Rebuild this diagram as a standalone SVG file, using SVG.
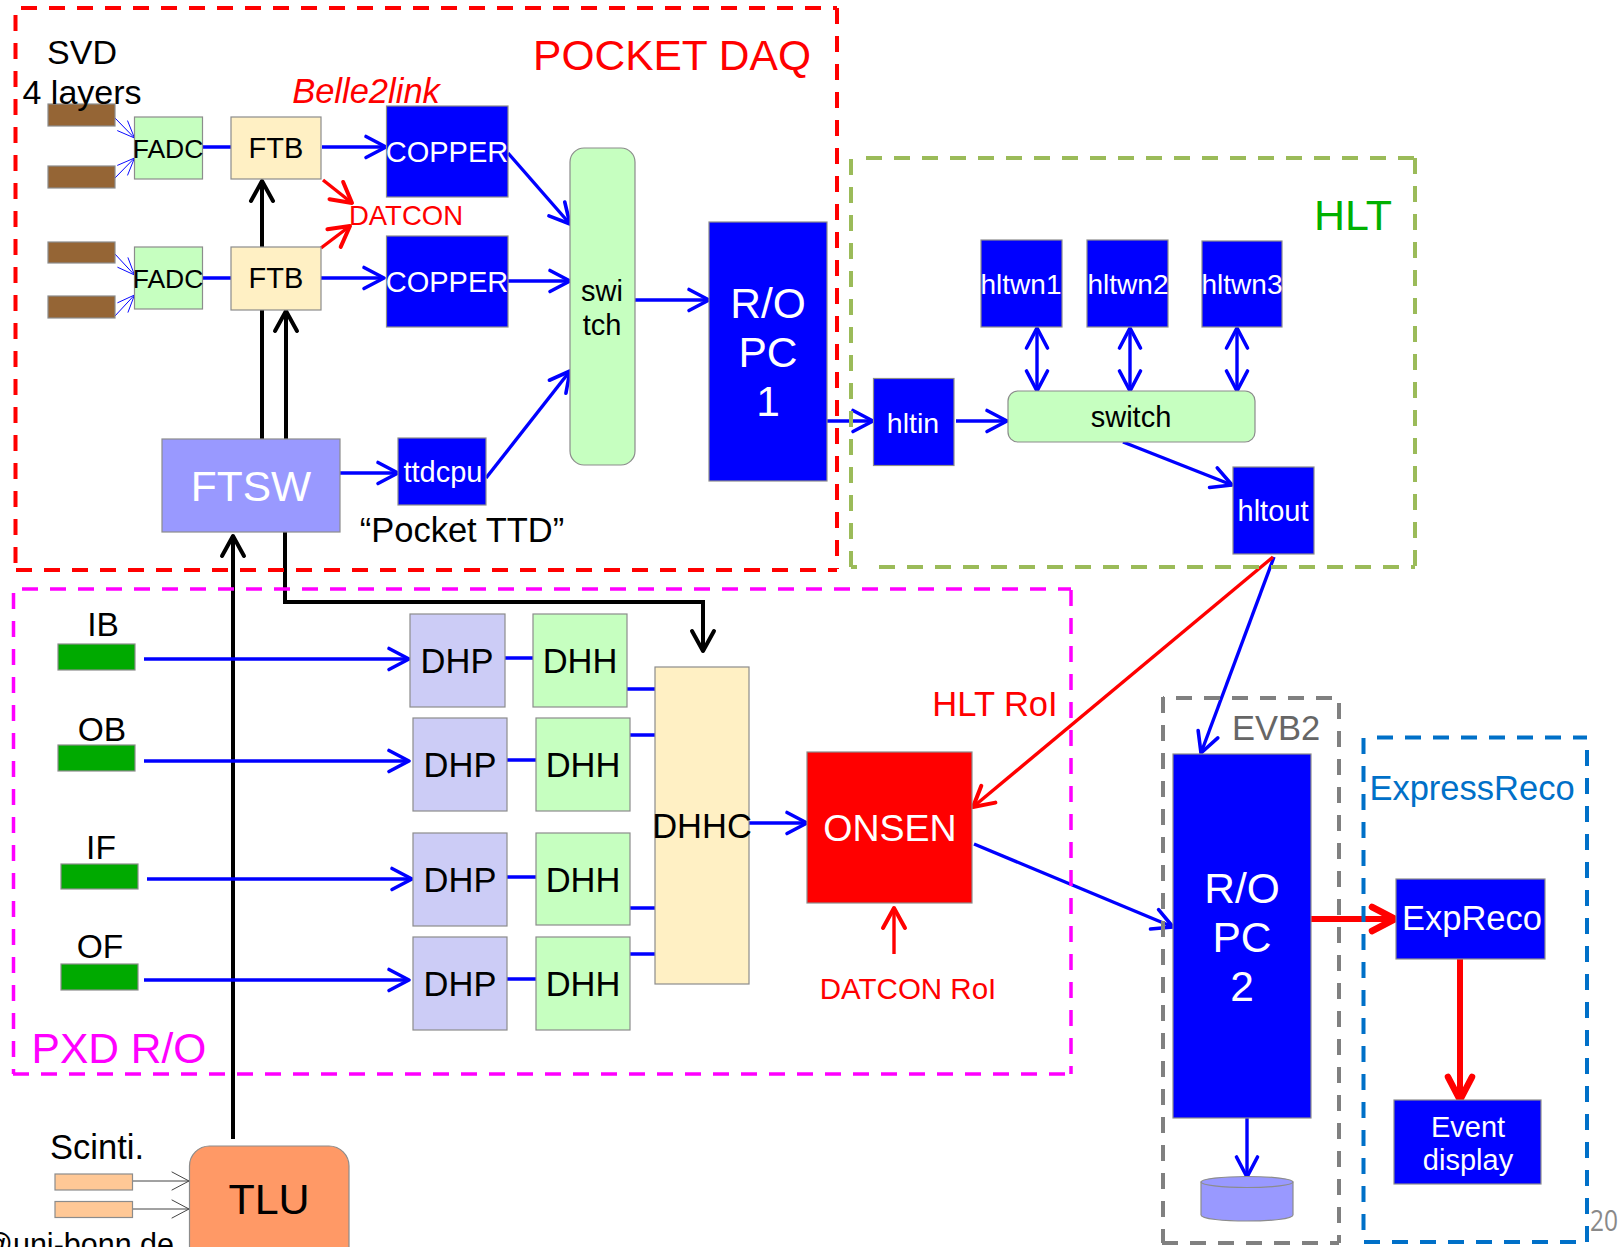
<svg xmlns="http://www.w3.org/2000/svg" width="1620" height="1247" viewBox="0 0 1620 1247">
<style>
text{font-family:"Liberation Sans",Arial,sans-serif;text-anchor:middle}
.n{stroke:#8c8c8c;stroke-width:1.2}
.bl{fill:#0000ff}.gr{fill:#c6ffc0}.ye{fill:#fff0c4}.li{fill:#ccccf6}.br{fill:#956535}.dg{fill:#00aa00}.sc{fill:#ffc896}
.w{fill:#fff}.k{fill:#000}.r{fill:#f00}
.frame{fill:none;stroke-width:4;stroke-dasharray:16 12}
.c{fill:none;stroke-width:3.4}
.cb{stroke:#0000ff}.cr{stroke:#f00}.ck{stroke:#000;stroke-width:4}
.thin{fill:none;stroke-width:1}
.ah{fill:none;stroke-linecap:round;stroke-linejoin:round}
</style>
<defs>
<marker id="ab" markerUnits="userSpaceOnUse" markerWidth="30" markerHeight="30" refX="22" refY="12" orient="auto" overflow="visible"><path class="ah" d="M2 1.500 L22 12 L2 22.500" stroke="#00f" stroke-width="3.6"/></marker>
<marker id="abs" markerUnits="userSpaceOnUse" markerWidth="30" markerHeight="30" refX="22" refY="12" orient="auto-start-reverse" overflow="visible"><path class="ah" d="M2 1.500 L22 12 L2 22.500" stroke="#00f" stroke-width="3.6"/></marker>
<marker id="ar" markerUnits="userSpaceOnUse" markerWidth="30" markerHeight="30" refX="22" refY="12" orient="auto" overflow="visible"><path class="ah" d="M2 1 L22 12 L2 23" stroke="#f00" stroke-width="4"/></marker>
<marker id="arw" markerUnits="userSpaceOnUse" markerWidth="36" markerHeight="36" refX="26" refY="14" orient="auto" overflow="visible"><path class="ah" d="M3 2 L26 14 L3 26" stroke="#f00" stroke-width="6.500"/></marker>
<marker id="ak" markerUnits="userSpaceOnUse" markerWidth="30" markerHeight="30" refX="22" refY="12" orient="auto" overflow="visible"><path class="ah" d="M2 1 L22 12 L2 23" stroke="#000" stroke-width="4"/></marker>
<marker id="at" markerUnits="userSpaceOnUse" markerWidth="20" markerHeight="20" refX="17" refY="8" orient="auto" overflow="visible"><path class="ah" d="M0 1 L17 8 L0 15" stroke="#00f" stroke-width="0.9"/></marker>
<marker id="ag" markerUnits="userSpaceOnUse" markerWidth="20" markerHeight="20" refX="17" refY="9" orient="auto" overflow="visible"><path class="ah" d="M0 0 L17 9 L0 18" stroke="#444" stroke-width="1"/></marker>
</defs>

<g id="connectors">
<g class="c ck">
<path d="M262 247 V181" marker-end="url(#ak)"/>
<path d="M262 439 V309"/>
<path d="M286 439 V311" marker-end="url(#ak)"/>
<path d="M233 1139 V536" marker-end="url(#ak)"/>
<path d="M285 532 V602 H703 V651" marker-end="url(#ak)"/>
</g>
<g class="thin" stroke="#00f" marker-end="url(#at)">
<path d="M114 117 L134.500 138"/><path d="M114 179 L134.500 158"/><path d="M114 253 L134.500 275"/><path d="M114 317 L134.500 295"/>
</g>
<g class="c cb">
<path d="M203 147 H231 M203 278 H231"/>
<path d="M322 147 H386" marker-end="url(#ab)"/>
<path d="M321 278 H384" marker-end="url(#ab)"/>
<path d="M508 153 L570 224" marker-end="url(#ab)"/>
<path d="M508 281 H570" marker-end="url(#ab)"/>
<path d="M486 478 L570 371" marker-end="url(#ab)"/>
<path d="M340 473 H398" marker-end="url(#ab)"/>
<path d="M635 300 H709" marker-end="url(#ab)"/>
<path d="M827 421 H873" marker-end="url(#ab)"/>
<path d="M956 421 H1007" marker-end="url(#ab)"/>
<path d="M1037 328 V391" marker-start="url(#abs)" marker-end="url(#abs)"/>
<path d="M1130 328 V391" marker-start="url(#abs)" marker-end="url(#abs)"/>
<path d="M1237 328 V391" marker-start="url(#abs)" marker-end="url(#abs)"/>
<path d="M1123 442 L1232 485" marker-end="url(#ab)"/>
<path d="M1274 557 L1201 753" marker-end="url(#ab)"/>
<path d="M144 659 H409" marker-end="url(#ab)"/>
<path d="M144 761 H409" marker-end="url(#ab)"/>
<path d="M147 879 H412" marker-end="url(#ab)"/>
<path d="M144 980 H409" marker-end="url(#ab)"/>
<path d="M505 658 H533 M507 760 H536 M507 877 H536 M507 979 H536"/>
<path d="M627 689 H655 M630 735 H655 M630 908 H655 M630 954 H655"/>
<path d="M749 823 H807" marker-end="url(#ab)"/>
<path d="M974 844 L1173 927" marker-end="url(#ab)"/>
<path d="M1247 1118 V1177" marker-end="url(#ab)"/>
</g>
<g class="c cr">
<path d="M323 180 L352 203" marker-end="url(#ar)"/>
<path d="M321 248 L350 226" marker-end="url(#ar)"/>
<path d="M1273 557 L973 807" marker-end="url(#ar)"/>
<path d="M894 954 V908" marker-end="url(#ar)"/>
<path d="M1311 919 H1395" marker-end="url(#arw)" stroke-width="6"/>
<path d="M1460 959 V1100" marker-end="url(#arw)" stroke-width="6"/>
</g>
<g class="thin" stroke="#444" marker-end="url(#ag)">
<path d="M132 1181 H189"/><path d="M132 1209 H189"/>
</g>
</g>

<g id="frames">
<path class="frame" stroke="#f00" d="M21 8 H837 M837 8 V569 M16 570 H837 M15.500 15 V570"/>
<path class="frame" stroke="#9bbb59" d="M866 158 H1415 M1415 158 V566 M851 567 H857 M879 567 H1415 M851 159 V567"/>
<path class="frame" stroke="#f0f" style="stroke-width:3.500" d="M22 589 H1071 M1071 590 V1074 M13 1074 H1071 M13.500 593 V1074"/>
<path class="frame" stroke="#808080" d="M1176 698 H1339 M1163 698 H1164 M1339 703 V1243 M1162 1243 H1339 M1163 697 V1243"/>
<path class="frame" stroke="#0070c8" d="M1377 737.500 H1587 M1587 750 V1242 M1364 1242 H1587 M1363.500 738 V1242"/>
</g>

<g id="svd-layers">
<rect class="n br" x="48" y="104" width="67" height="22"/>
<rect class="n br" x="48" y="166" width="67" height="22"/>
<rect class="n br" x="48" y="242" width="67" height="21"/>
<rect class="n br" x="48" y="296" width="67" height="22"/>
</g>
<g id="fadc1"><rect class="n gr" x="134.500" y="117" width="68" height="62"/><text class="k" x="168" y="158" font-size="26.500">FADC</text></g>
<g id="fadc2"><rect class="n gr" x="134.500" y="247" width="68" height="62"/><text class="k" x="168" y="288" font-size="26.500">FADC</text></g>
<g id="ftb1"><rect class="n ye" x="231" y="117" width="90" height="62"/><text class="k" x="276" y="158" font-size="29">FTB</text></g>
<g id="ftb2"><rect class="n ye" x="231" y="247" width="90" height="63"/><text class="k" x="276" y="288" font-size="29">FTB</text></g>
<g id="copper1"><rect class="n bl" x="386.500" y="106" width="121.500" height="91"/><text class="w" x="447" y="162" font-size="29">COPPER</text></g>
<g id="copper2"><rect class="n bl" x="386.500" y="236" width="121.500" height="91"/><text class="w" x="447" y="292" font-size="29">COPPER</text></g>
<g id="switch1"><rect class="n gr" x="570" y="148" width="65" height="317" rx="14"/><text class="k" x="602" y="301" font-size="29">swi</text><text class="k" x="602" y="335" font-size="29">tch</text></g>
<g id="ropc1"><rect class="n bl" x="709" y="222" width="118" height="259"/><text class="w" x="768" y="318" font-size="42.500">R/O</text><text class="w" x="768" y="367" font-size="42.500">PC</text><text class="w" x="768" y="416" font-size="42.500">1</text></g>
<g id="ftsw"><rect class="n" fill="#9999ff" x="162" y="439" width="178" height="93"/><text class="w" x="251" y="501" font-size="42.500">FTSW</text></g>
<g id="ttdcpu"><rect class="n bl" x="398" y="438" width="88" height="67"/><text class="w" x="443" y="482" font-size="29">ttdcpu</text></g>
<g id="hltin"><rect class="n bl" x="873.500" y="378.500" width="80.500" height="87"/><text class="w" x="913" y="433" font-size="28.500">hltin</text></g>
<g id="hltwn1"><rect class="n bl" x="981" y="240" width="81" height="87"/><text class="w" x="1021" y="294" font-size="28">hltwn1</text></g>
<g id="hltwn2"><rect class="n bl" x="1087" y="240" width="81" height="87"/><text class="w" x="1128" y="294" font-size="28">hltwn2</text></g>
<g id="hltwn3"><rect class="n bl" x="1202" y="241" width="80" height="86"/><text class="w" x="1242" y="294" font-size="28">hltwn3</text></g>
<g id="switch2"><rect class="n gr" x="1008" y="391" width="247" height="51" rx="10"/><text class="k" x="1131" y="427" font-size="29">switch</text></g>
<g id="hltout"><rect class="n bl" x="1233" y="467" width="81" height="87"/><text class="w" x="1273" y="521" font-size="29">hltout</text></g>
<g id="ib"><rect class="n dg" x="58" y="644" width="77" height="26"/><text class="k" x="103" y="636" font-size="33.500">IB</text></g>
<g id="ob"><rect class="n dg" x="58" y="745" width="77" height="26"/><text class="k" x="102" y="741" font-size="33.500">OB</text></g>
<g id="if"><rect class="n dg" x="61" y="864" width="77" height="25"/><text class="k" x="101" y="859" font-size="33.500">IF</text></g>
<g id="of"><rect class="n dg" x="61" y="964" width="77" height="26"/><text class="k" x="100" y="958" font-size="33.500">OF</text></g>
<g id="dhp1"><rect class="n li" x="410" y="614" width="95" height="93"/><text class="k" x="457" y="673" font-size="34.500">DHP</text></g>
<g id="dhh1"><rect class="n gr" x="533" y="614" width="94" height="93"/><text class="k" x="580" y="673" font-size="34.500">DHH</text></g>
<g id="dhp2"><rect class="n li" x="413" y="718" width="94" height="93"/><text class="k" x="460" y="777" font-size="34.500">DHP</text></g>
<g id="dhh2"><rect class="n gr" x="536" y="718" width="94" height="93"/><text class="k" x="583" y="777" font-size="34.500">DHH</text></g>
<g id="dhp3"><rect class="n li" x="413" y="833" width="94" height="93"/><text class="k" x="460" y="892" font-size="34.500">DHP</text></g>
<g id="dhh3"><rect class="n gr" x="536" y="833" width="94" height="92"/><text class="k" x="583" y="892" font-size="34.500">DHH</text></g>
<g id="dhp4"><rect class="n li" x="413" y="937" width="94" height="93"/><text class="k" x="460" y="996" font-size="34.500">DHP</text></g>
<g id="dhh4"><rect class="n gr" x="536" y="937" width="94" height="93"/><text class="k" x="583" y="996" font-size="34.500">DHH</text></g>
<g id="dhhc"><rect class="n ye" x="655" y="667" width="94" height="317"/><text class="k" x="702" y="838" font-size="34.500">DHHC</text></g>
<g id="onsen"><rect class="n r" x="807" y="752" width="165" height="151"/><text class="w" x="890" y="841" font-size="37.500">ONSEN</text></g>
<g id="ropc2"><rect class="n bl" x="1173" y="754" width="138" height="364"/><text class="w" x="1242" y="903" font-size="42.500">R/O</text><text class="w" x="1242" y="952" font-size="42.500">PC</text><text class="w" x="1242" y="1001" font-size="42.500">2</text></g>
<g id="expreco"><rect class="n bl" x="1396" y="879" width="149" height="80"/><text class="w" x="1472" y="930" font-size="34.500">ExpReco</text></g>
<g id="event-display"><rect class="n bl" x="1394" y="1100" width="147" height="84"/><text class="w" x="1468" y="1137" font-size="29">Event</text><text class="w" x="1468" y="1170" font-size="29">display</text></g>
<g id="disk"><path class="n" fill="#9999ff" d="M1201 1182 V1215 C1201 1223 1293 1223 1293 1215 V1182 Z"/><ellipse class="n" fill="#9999ff" cx="1247" cy="1182" rx="46" ry="5.500"/></g>
<g id="scinti"><rect class="n sc" x="55" y="1174" width="77.500" height="16"/><rect class="n sc" x="55" y="1201.500" width="77.500" height="16"/><text class="k" x="97" y="1158.500" font-size="34.500">Scinti.</text></g>
<g id="tlu"><rect class="n" fill="#ff9966" x="189.500" y="1146" width="159.500" height="130" rx="20"/><text class="k" x="269" y="1214" font-size="43">TLU</text></g>

<g id="labels">
<text class="k" x="82" y="64" font-size="34">SVD</text>
<text class="k" x="82" y="104" font-size="34">4 layers</text>
<text class="r" x="672" y="69.500" font-size="42.500">POCKET DAQ</text>
<text class="r" x="366" y="103" font-size="34.500" font-style="italic">Belle2link</text>
<text class="r" x="406" y="225" font-size="27.500">DATCON</text>
<text class="k" x="462" y="542" font-size="34.500">“Pocket TTD”</text>
<text x="1353" y="230" font-size="43" fill="#00b000">HLT</text>
<text x="119" y="1063" font-size="42.500" fill="#f0f">PXD R/O</text>
<text class="r" x="995" y="716" font-size="34.500">HLT RoI</text>
<text class="r" x="908" y="999" font-size="29.500">DATCON RoI</text>
<text x="1276" y="740" font-size="34.500" fill="#666">EVB2</text>
<text x="1472" y="800" font-size="34.500" fill="#0070c8">ExpressReco</text>
<text class="k" x="78" y="1255" font-size="30.500">@uni-bonn.de</text>
<text x="1604" y="1231" font-size="29" fill="#898989" textLength="28" lengthAdjust="spacingAndGlyphs" style="font-family:'Open Sans',sans-serif">20</text>
</g>
</svg>
